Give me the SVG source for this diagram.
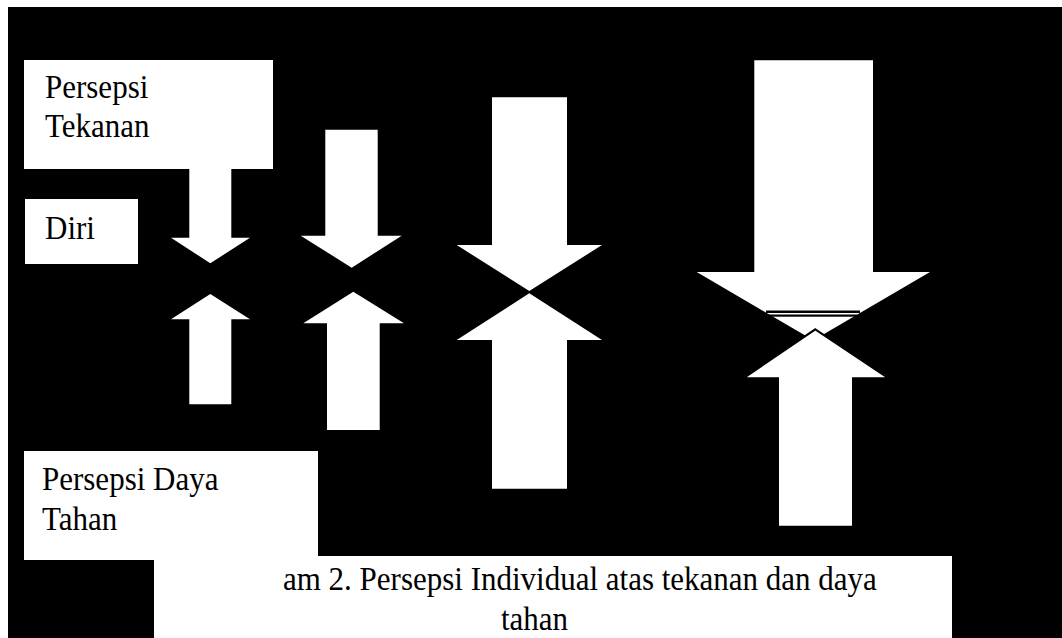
<svg xmlns="http://www.w3.org/2000/svg" width="1062" height="638" viewBox="0 0 1062 638">
<style>
.bg{fill:#000}
.box{fill:#fff}
.arr{fill:#fff}
.arrO{fill:#fff;stroke:#000;stroke-width:2;stroke-linejoin:miter}
.t{font-family:"Liberation Serif","Times New Roman",serif;font-size:31px;fill:#000}
</style>
<rect x="0" y="0" width="1062" height="638" fill="#fff"/>
<rect class="bg" x="8" y="7" width="1054" height="631"/>
<g id="connectors">
  <polygon class="arr" points="189.3,169 231.3,169 231.3,237.7 250,237.7 210.3,263.3 171,237.7 189.3,237.7"/>
  <polygon class="arr" points="210.3,294 250,319.3 231.3,319.3 231.3,404.3 189.3,404.3 189.3,319.3 171,319.3"/>
  <polygon class="arr" points="325.3,129.7 377.7,129.7 377.7,235.7 401.7,235.7 351.7,267.7 300.7,235.7 325.3,235.7"/>
  <polygon class="arr" points="353.3,291.7 404,323.3 379.7,323.3 379.7,430 327,430 327,323.3 303.3,323.3"/>
  <polygon class="arr" points="492,97.3 567,97.3 567,245 602,245 529.3,291 456.7,245 492,245"/>
  <polygon class="arr" points="529.3,293.3 602,340 567,340 567,488.7 492,488.7 492,340 456.7,340"/>
  <polygon class="arr" points="754.3,60.3 873,60.3 873,272 930,272 813.4,340.3 696.7,272 754.3,272"/>
  <rect x="766" y="310.5" width="94" height="2.5" fill="#000"/>
  <rect x="769" y="314.5" width="88" height="2.2" fill="#000"/>
  <polygon class="arrO" points="815.3,329.3 888.7,378.3 853,378.3 853,526.7 778,526.7 778,378.3 743.3,378.3"/>
</g>
<g id="node-tekanan">
  <rect class="box" x="24" y="60" width="249" height="109"/>
  <text class="t" transform="translate(45,97.7) scale(1,1.065)">Persepsi</text>
  <text class="t" transform="translate(45,137.3) scale(1,1.065)">Tekanan</text>
</g>
<g id="node-diri">
  <rect class="box" x="25" y="199" width="113" height="65"/>
  <text class="t" transform="translate(45,239) scale(1,1.065)">Diri</text>
</g>
<g id="node-dayatahan">
  <rect class="box" x="24" y="451" width="294" height="109"/>
  <text class="t" transform="translate(42,490) scale(1,1.065)">Persepsi Daya</text>
  <text class="t" transform="translate(42,530) scale(1,1.065)">Tahan</text>
</g>
<g id="node-caption">
  <rect class="box" x="154" y="556" width="798" height="82"/>
  <text class="t" transform="translate(283,590) scale(1,1.065)">am 2. Persepsi Individual atas tekanan dan daya</text>
  <text class="t" transform="translate(501,630) scale(1,1.065)">tahan</text>
</g>
</svg>
